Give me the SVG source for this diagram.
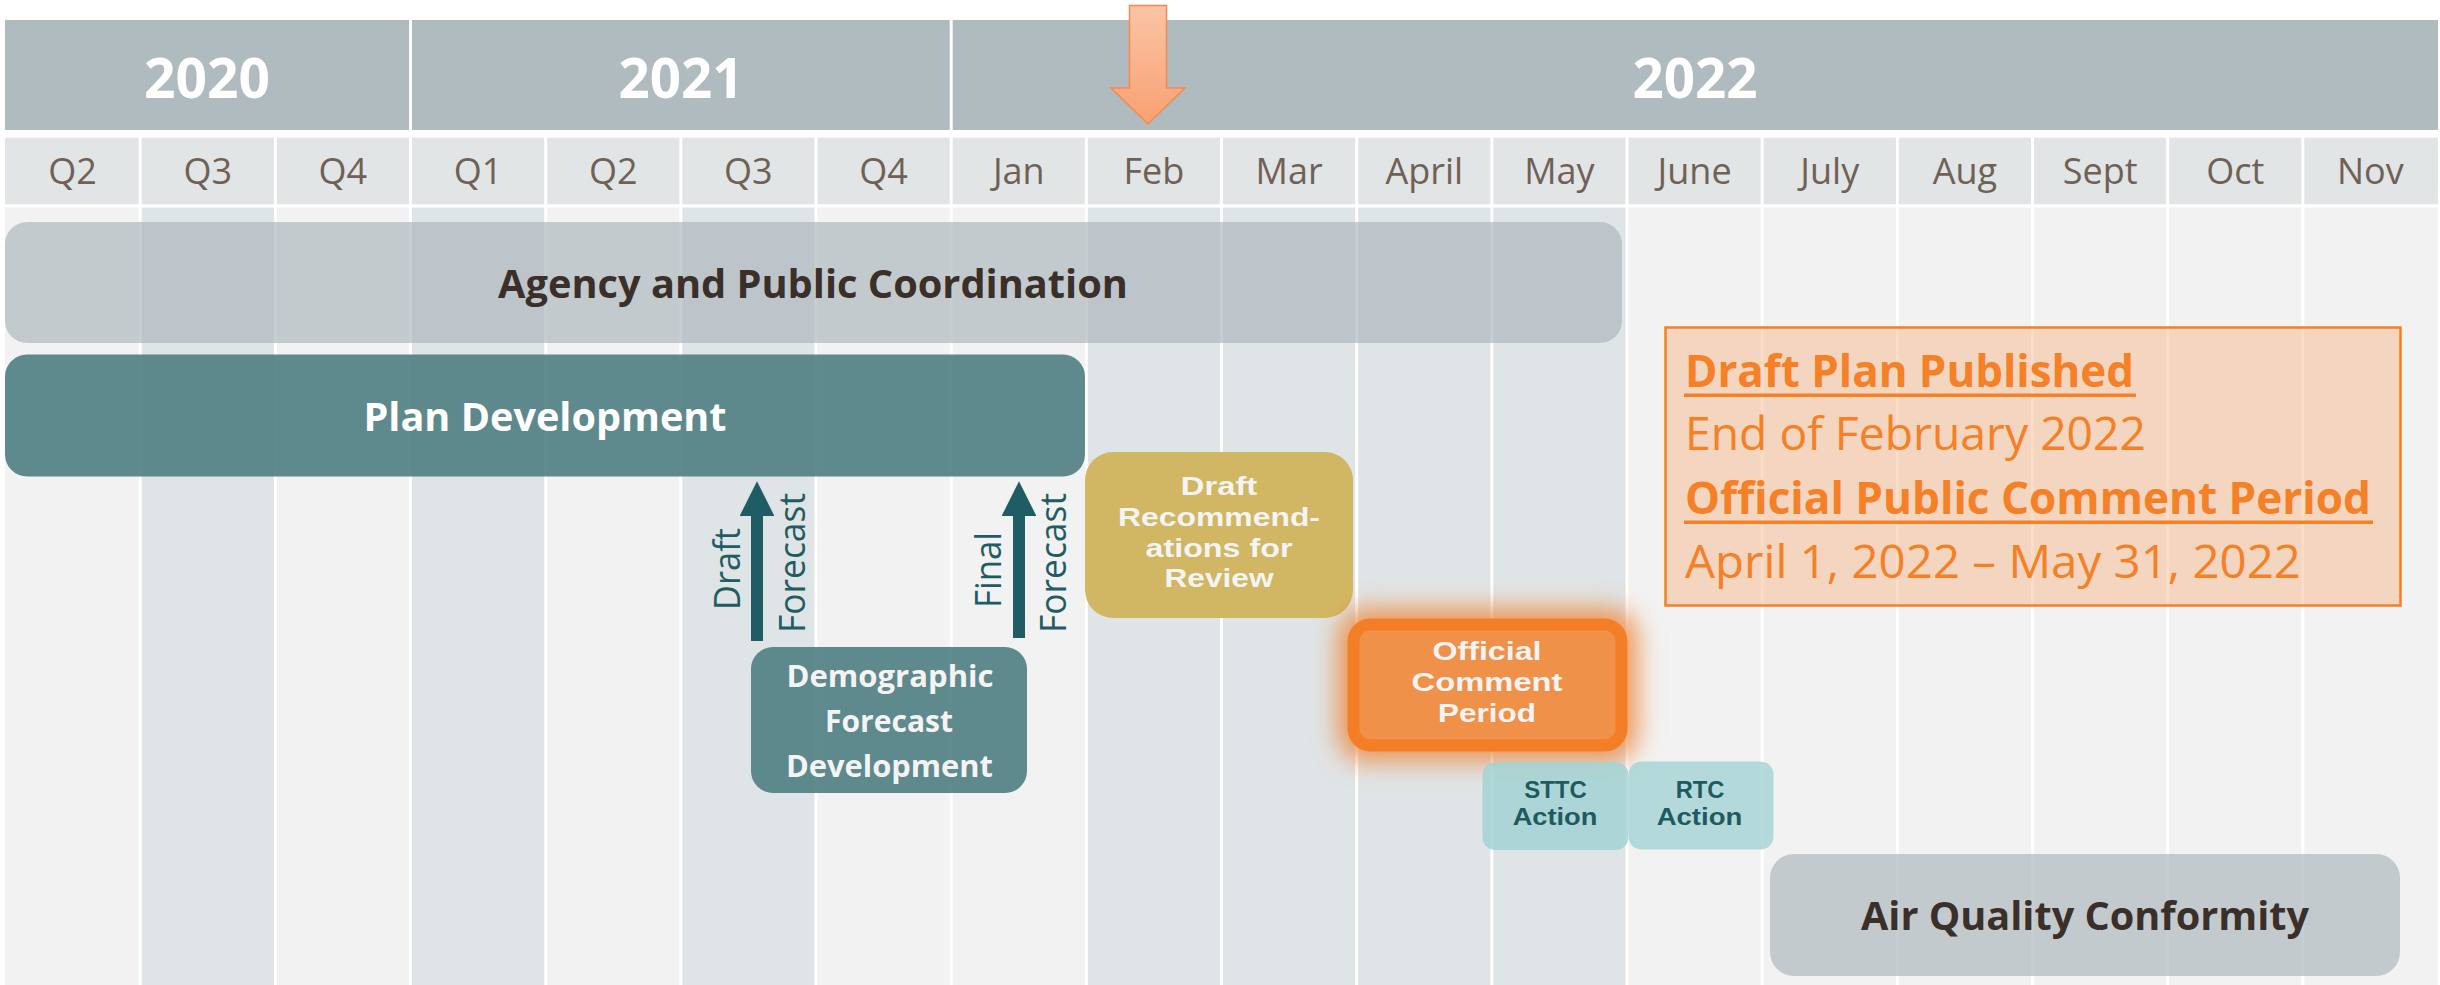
<svg xmlns="http://www.w3.org/2000/svg" width="2440" height="985" viewBox="0 0 2440 985">
<defs>
<style>
.yb{fill:#b0bbbf}
.qc{fill:#e1e5e6}
.cl{fill:#f2f2f2}
.cd{fill:#dfe4e6}
.yr{font-family:'Open Sans','Noto Sans',sans-serif;font-weight:700;font-size:55px;fill:#ffffff;text-anchor:middle}
.ql{font-family:'Open Sans','Noto Sans',sans-serif;font-size:36px;fill:#6f6156;text-anchor:middle}
.bigd{font-family:'Open Sans','Noto Sans',sans-serif;font-weight:700;font-size:40px;fill:#3b2f2a;text-anchor:middle}
.bigw{font-family:'Open Sans','Noto Sans',sans-serif;font-weight:700;font-size:40px;fill:#ffffff;text-anchor:middle}
.lbw{font-family:'Open Sans','Noto Sans',sans-serif;font-weight:700;font-size:31px;fill:#f4f4f4;text-anchor:middle}
.lbn{font-family:'Liberation Sans','Arial',sans-serif;font-weight:700;font-size:26.5px;fill:#f4f4f4;text-anchor:middle}
.lbt{font-family:'Liberation Sans','Arial',sans-serif;font-weight:700;font-size:24px;fill:#1f5a5e;text-anchor:middle}
.rot{font-family:'Open Sans','Noto Sans',sans-serif;font-size:37px;fill:#1f5c63;text-anchor:middle}
.ob{font-family:'Open Sans','Noto Sans',sans-serif;font-weight:700;font-size:45px;fill:#f58025}
.or{font-family:'Open Sans','Noto Sans',sans-serif;font-size:45px;fill:#f58025}
.grey{fill:#acb7bc;fill-opacity:0.68}
.teal{fill:#518084;fill-opacity:0.92}
</style>
<linearGradient id="og" x1="0" y1="0" x2="0" y2="1">
<stop offset="0" stop-color="#fbc4a6"/>
<stop offset="1" stop-color="#f9a071"/>
</linearGradient>
<filter id="glow" x="-40%" y="-40%" width="180%" height="180%">
<feGaussianBlur stdDeviation="12"/>
</filter>
<marker id="ah" viewBox="0 0 10 10" refX="0" refY="5" markerWidth="3" markerHeight="2.9" orient="auto" markerUnits="strokeWidth">
<path d="M0,0 L10,5 L0,10 z" fill="#1f5c63"/>
</marker>
</defs>
<rect x="0" y="0" width="2440" height="985" fill="#ffffff"/>

<g id="timeline">
<rect class="yb" x="5" y="20" width="404" height="110"/>
<rect class="yb" x="412" y="20" width="537.7" height="110"/>
<rect class="yb" x="952.7" y="20" width="1485.3" height="110"/>
<text class="yr" x="207" y="98" textLength="126" lengthAdjust="spacingAndGlyphs">2020</text>
<text class="yr" x="681" y="98" textLength="125" lengthAdjust="spacingAndGlyphs">2021</text>
<text class="yr" x="1695" y="98" textLength="125" lengthAdjust="spacingAndGlyphs">2022</text>

<g id="quarter-row">
<rect class="qc" x="5" y="137.7" width="133.7" height="66.6"/>
<rect class="qc" x="141.7" y="137.7" width="132.2" height="66.6"/>
<rect class="qc" x="276.8" y="137.7" width="132.2" height="66.6"/>
<rect class="qc" x="412" y="137.7" width="132.2" height="66.6"/>
<rect class="qc" x="547.2" y="137.7" width="132.2" height="66.6"/>
<rect class="qc" x="682.3" y="137.7" width="132.2" height="66.6"/>
<rect class="qc" x="817.5" y="137.7" width="132.2" height="66.6"/>
<rect class="qc" x="952.7" y="137.7" width="132.2" height="66.6"/>
<rect class="qc" x="1087.8" y="137.7" width="132.2" height="66.6"/>
<rect class="qc" x="1223" y="137.7" width="132.2" height="66.6"/>
<rect class="qc" x="1358.2" y="137.7" width="132.2" height="66.6"/>
<rect class="qc" x="1493.3" y="137.7" width="132.2" height="66.6"/>
<rect class="qc" x="1628.5" y="137.7" width="132.2" height="66.6"/>
<rect class="qc" x="1763.7" y="137.7" width="132.2" height="66.6"/>
<rect class="qc" x="1898.8" y="137.7" width="132.2" height="66.6"/>
<rect class="qc" x="2034" y="137.7" width="132.2" height="66.6"/>
<rect class="qc" x="2169.2" y="137.7" width="132.2" height="66.6"/>
<rect class="qc" x="2304.3" y="137.7" width="133.7" height="66.6"/>
<text class="ql" x="72.6" y="184">Q2</text>
<text class="ql" x="207.8" y="184">Q3</text>
<text class="ql" x="342.9" y="184">Q4</text>
<text class="ql" x="478.1" y="184">Q1</text>
<text class="ql" x="613.3" y="184">Q2</text>
<text class="ql" x="748.4" y="184">Q3</text>
<text class="ql" x="883.6" y="184">Q4</text>
<text class="ql" x="1018.8" y="184">Jan</text>
<text class="ql" x="1153.9" y="184">Feb</text>
<text class="ql" x="1289.1" y="184">Mar</text>
<text class="ql" x="1424.3" y="184">April</text>
<text class="ql" x="1559.4" y="184">May</text>
<text class="ql" x="1694.6" y="184">June</text>
<text class="ql" x="1829.8" y="184">July</text>
<text class="ql" x="1964.9" y="184">Aug</text>
<text class="ql" x="2100.1" y="184">Sept</text>
<text class="ql" x="2235.3" y="184">Oct</text>
<text class="ql" x="2370.4" y="184">Nov</text>
</g>

<g id="columns">
<rect class="cl" x="5" y="207.5" width="133.7" height="777.5"/>
<rect class="cd" x="141.7" y="207.5" width="132.2" height="777.5"/>
<rect class="cl" x="276.8" y="207.5" width="132.2" height="777.5"/>
<rect class="cd" x="412" y="207.5" width="132.2" height="777.5"/>
<rect class="cl" x="547.2" y="207.5" width="132.2" height="777.5"/>
<rect class="cd" x="682.3" y="207.5" width="132.2" height="777.5"/>
<rect class="cl" x="817.5" y="207.5" width="132.2" height="777.5"/>
<rect class="cl" x="952.7" y="207.5" width="132.2" height="777.5"/>
<rect class="cd" x="1087.8" y="207.5" width="132.2" height="777.5"/>
<rect class="cd" x="1223" y="207.5" width="132.2" height="777.5"/>
<rect class="cd" x="1358.2" y="207.5" width="132.2" height="777.5"/>
<rect class="cd" x="1493.3" y="207.5" width="132.2" height="777.5"/>
<rect class="cl" x="1628.5" y="207.5" width="132.2" height="777.5"/>
<rect class="cl" x="1763.7" y="207.5" width="132.2" height="777.5"/>
<rect class="cl" x="1898.8" y="207.5" width="132.2" height="777.5"/>
<rect class="cl" x="2034" y="207.5" width="132.2" height="777.5"/>
<rect class="cl" x="2169.2" y="207.5" width="132.2" height="777.5"/>
<rect class="cl" x="2304.3" y="207.5" width="133.7" height="777.5"/>
</g>
</g>

<g id="agency">
<rect class="grey" x="5" y="222" width="1617" height="121" rx="22"/>
<text class="bigd" x="813" y="297.5" font-size="41" textLength="630" lengthAdjust="spacingAndGlyphs">Agency and Public Coordination</text>
</g>

<g id="plan-development">
<rect class="teal" x="5" y="354.5" width="1080" height="122" rx="22"/>
<text class="bigw" x="545" y="431" textLength="363" lengthAdjust="spacingAndGlyphs">Plan Development</text>
</g>

<g id="connectors">
<line x1="757" y1="641" x2="757" y2="516" stroke="#1f5c63" stroke-width="12" marker-end="url(#ah)"/>
<line x1="1019" y1="638" x2="1019" y2="516" stroke="#1f5c63" stroke-width="12" marker-end="url(#ah)"/>
<text class="rot" transform="translate(740,569) rotate(-90)" textLength="82" lengthAdjust="spacingAndGlyphs">Draft</text>
<text class="rot" transform="translate(805,563) rotate(-90)" textLength="140" lengthAdjust="spacingAndGlyphs">Forecast</text>
<text class="rot" transform="translate(1001,570) rotate(-90)" textLength="76" lengthAdjust="spacingAndGlyphs">Final</text>
<text class="rot" transform="translate(1066,563) rotate(-90)" textLength="140" lengthAdjust="spacingAndGlyphs">Forecast</text>
</g>

<g id="demographic">
<rect class="teal" x="751" y="647" width="276" height="146" rx="22"/>
<text class="lbw"><tspan x="890" y="687" textLength="207" lengthAdjust="spacingAndGlyphs">Demographic</tspan><tspan x="889" y="732" textLength="128" lengthAdjust="spacingAndGlyphs">Forecast</tspan><tspan x="889.5" y="777" textLength="207" lengthAdjust="spacingAndGlyphs">Development</tspan></text>
</g>

<g id="draft-recommendations">
<rect x="1085" y="452" width="268" height="166" rx="28" fill="#d0b45c" fill-opacity="0.95"/>
<text class="lbn"><tspan x="1219" y="495" textLength="76.5" lengthAdjust="spacingAndGlyphs">Draft</tspan><tspan x="1219" y="525.5" textLength="202" lengthAdjust="spacingAndGlyphs">Recommend-</tspan><tspan x="1219" y="556.5" textLength="147" lengthAdjust="spacingAndGlyphs">ations for</tspan><tspan x="1219" y="587" textLength="109" lengthAdjust="spacingAndGlyphs">Review</tspan></text>
</g>

<g id="official-comment-period">
<rect x="1337" y="608" width="301" height="154" rx="30" fill="#ef8a3e" fill-opacity="0.85" filter="url(#glow)"/>
<rect x="1353.5" y="624.5" width="268" height="121" rx="17" fill="#f0914a" stroke="#f47e26" stroke-width="12"/>
<text class="lbn" font-size="27"><tspan x="1487" y="660" textLength="109" lengthAdjust="spacingAndGlyphs">Official</tspan><tspan x="1487" y="691" textLength="151" lengthAdjust="spacingAndGlyphs">Comment</tspan><tspan x="1487" y="722" textLength="98" lengthAdjust="spacingAndGlyphs">Period</tspan></text>
</g>

<g id="sttc-action">
<rect x="1482.5" y="762" width="146" height="88" rx="13" fill="#a3d2d3" fill-opacity="0.85"/>
<text class="lbt"><tspan x="1555.5" y="797.5" textLength="62.4" lengthAdjust="spacingAndGlyphs">STTC</tspan><tspan x="1555" y="825" textLength="84.7" lengthAdjust="spacingAndGlyphs">Action</tspan></text>
</g>

<g id="rtc-action">
<rect x="1628.5" y="761.5" width="145" height="88" rx="13" fill="#a3d2d3" fill-opacity="0.8"/>
<text class="lbt"><tspan x="1700" y="797.5" textLength="48.7" lengthAdjust="spacingAndGlyphs">RTC</tspan><tspan x="1699.5" y="825" textLength="85.7" lengthAdjust="spacingAndGlyphs">Action</tspan></text>
</g>

<g id="air-quality-conformity">
<rect class="grey" x="1770" y="854" width="630" height="122" rx="24"/>
<text class="bigd" x="2085" y="930" font-size="39" textLength="448" lengthAdjust="spacingAndGlyphs">Air Quality Conformity</text>
</g>

<g id="draft-plan-note">
<rect x="1665.5" y="327.5" width="735" height="278" fill="#f4b183" fill-opacity="0.45" stroke="#f58025" stroke-width="2.5"/>
<text class="ob" x="1685" y="387" textLength="449" lengthAdjust="spacingAndGlyphs">Draft Plan Published</text>
<rect x="1684" y="393.5" width="452" height="3.5" fill="#f58025"/>
<text class="or" x="1685" y="450" textLength="461" lengthAdjust="spacingAndGlyphs">End of February 2022</text>
<text class="ob" x="1685" y="514" textLength="686" lengthAdjust="spacingAndGlyphs">Official Public Comment Period</text>
<rect x="1684" y="520.5" width="689" height="3.5" fill="#f58025"/>
<text class="or" x="1685" y="578" textLength="616" lengthAdjust="spacingAndGlyphs">April 1, 2022 – May 31, 2022</text>
</g>

<g id="feb-marker">
<polygon points="1129.5,5.5 1166.5,5.5 1166.5,88 1185,88 1148,124 1111,88 1129.5,88" fill="url(#og)" stroke="#f5894c" stroke-width="1.5"/>
</g>
</svg>
